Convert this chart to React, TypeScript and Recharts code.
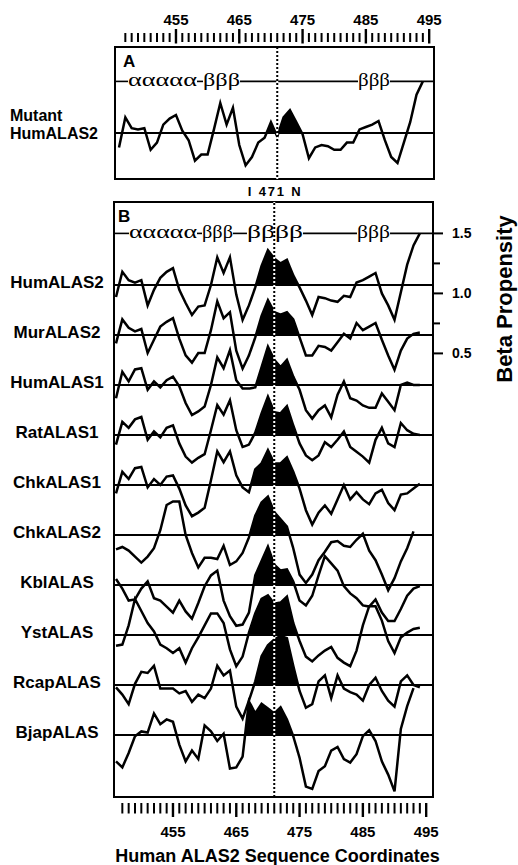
import React from 'react';
import { ComposedChart, Line, Area, XAxis, YAxis, ReferenceLine, ReferenceArea } from 'recharts';

// ---------- data ----------
const RESIDUES = [446, 447, 448, 449, 450, 451, 452, 453, 454, 455, 456, 457, 458, 459, 460, 461, 462, 463, 464, 465, 466, 467, 468, 469, 470, 471, 472, 473, 474, 475, 476, 477, 478, 479, 480, 481, 482, 483, 484, 485, 486, 487, 488, 489, 490, 491, 492, 493, 494];
const AXIS_TICKS = [447, 448, 449, 450, 451, 452, 453, 454, 455, 456, 457, 458, 459, 460, 461, 462, 463, 464, 465, 466, 467, 468, 469, 470, 471, 472, 473, 474, 475, 476, 477, 478, 479, 480, 481, 482, 483, 484, 485, 486, 487, 488, 489, 490, 491, 492, 493, 494, 495];
const LABELLED_TICKS = [455, 465, 475, 485, 495];
const PROPENSITY_TICKS = [0.5, 0.75, 1.0, 1.25, 1.5];
const PROPENSITY_LABELS = [0.5, 1.0, 1.5];
const MEAN = 1.07;
const SS_LEVEL = 1.5;
const MUTATION_SITE = 471;
const MUTATION_LABEL = 'I 471 N';
const FILL_WINDOW = [466, 476];
const X_TITLE = 'Human ALAS2 Sequence Coordinates';
const Y_TITLE = 'Beta Propensity';

const SPECIES = ['HumALAS2', 'MurALAS2', 'HumALAS1', 'RatALAS1', 'ChkALAS1', 'ChkALAS2', 'KblALAS', 'YstALAS', 'RcapALAS', 'BjapALAS'];

const mutantHumALAS2 = [0.95, 1.20, 1.11, 1.10, 1.11, 0.93, 0.99, 1.14, 1.19, 1.22, 1.09, 1.01, 0.84, 0.89, 0.89, 1.10, 1.32, 1.14, 1.28, 0.97, 0.80, 0.87, 0.99, 1.03, 1.16, 1.04, 1.20, 1.26, 1.16, 1.06, 0.86, 0.95, 0.97, 0.96, 0.93, 0.93, 0.99, 0.99, 1.10, 1.12, 1.14, 1.17, 1.01, 0.87, 0.82, 0.99, 1.16, 1.39, 1.50];

const humALAS2 = [0.97, 1.18, 1.11, 1.09, 1.11, 0.90, 1.03, 1.13, 1.18, 1.21, 1.03, 0.92, 0.82, 0.89, 0.90, 1.07, 1.30, 1.17, 1.30, 0.99, 0.78, 0.90, 1.05, 1.23, 1.36, 1.29, 1.25, 1.28, 1.15, 1.05, 0.94, 0.82, 0.97, 0.96, 0.94, 0.93, 0.98, 0.97, 1.09, 1.11, 1.14, 1.17, 1.00, 0.90, 0.78, 1.01, 1.24, 1.40, 1.50];
const murALAS2 = [1.00, 1.20, 1.13, 1.10, 1.12, 0.92, 1.03, 1.14, 1.18, 1.21, 1.04, 0.90, 0.84, 0.92, 0.92, 1.11, 1.35, 1.21, 1.26, 0.94, 0.79, 0.90, 1.05, 1.23, 1.36, 1.26, 1.24, 1.26, 1.20, 1.05, 0.90, 0.90, 0.98, 0.97, 0.94, 1.01, 1.08, 1.04, 1.17, 1.11, 1.14, 1.17, 1.03, 0.90, 0.78, 0.94, 1.04, 1.08, 1.09];
const humALAS1 = [0.96, 1.18, 1.10, 1.20, 1.21, 1.03, 1.10, 1.05, 1.11, 1.14, 1.06, 0.92, 0.82, 0.85, 0.89, 1.07, 1.30, 1.21, 1.36, 1.11, 1.04, 1.04, 1.05, 1.22, 1.39, 1.28, 1.22, 1.28, 1.14, 1.03, 0.86, 0.79, 0.86, 0.90, 0.80, 0.99, 1.10, 0.96, 0.94, 0.90, 0.88, 0.88, 1.00, 0.93, 0.86, 1.07, 1.09, 1.07, 1.07];
const ratALAS1 = [0.99, 1.18, 1.13, 1.20, 1.22, 1.03, 1.10, 1.05, 1.13, 1.15, 1.00, 0.89, 0.84, 0.88, 0.91, 1.11, 1.32, 1.24, 1.36, 1.11, 0.97, 0.99, 1.09, 1.25, 1.39, 1.26, 1.25, 1.31, 1.15, 1.00, 0.90, 0.86, 0.90, 1.01, 0.97, 1.03, 1.10, 0.97, 0.93, 0.89, 0.84, 1.03, 1.13, 1.00, 0.97, 1.17, 1.11, 1.08, 1.07];
const chkALAS1 = [1.00, 1.18, 1.12, 1.21, 1.22, 1.05, 1.12, 1.07, 1.14, 1.15, 1.04, 0.90, 0.81, 0.84, 0.88, 1.11, 1.35, 1.26, 1.35, 1.15, 1.05, 1.01, 1.20, 1.25, 1.36, 1.25, 1.25, 1.30, 1.18, 1.04, 0.86, 0.74, 0.84, 0.90, 0.83, 0.95, 1.07, 0.95, 1.01, 0.95, 0.91, 1.00, 1.03, 0.92, 0.86, 0.99, 1.00, 1.04, 1.08];
const chkALAS2 = [0.95, 0.97, 0.94, 0.89, 0.84, 0.89, 0.96, 1.11, 1.32, 1.35, 1.35, 1.07, 0.92, 0.80, 0.88, 0.88, 0.87, 0.98, 0.82, 0.85, 0.92, 1.05, 1.23, 1.34, 1.39, 1.26, 1.20, 1.14, 0.96, 0.74, 0.67, 0.74, 0.86, 0.93, 1.01, 1.02, 0.98, 0.97, 1.03, 1.08, 0.94, 0.86, 0.74, 0.61, 0.71, 0.85, 0.96, 1.10, null];
const kblALAS = [1.12, 1.04, 0.94, 0.95, 1.04, 1.10, 0.96, 0.94, 0.89, 0.84, 0.94, 0.85, 0.79, 0.92, 1.06, 1.15, 1.19, 0.94, 0.81, 0.73, 0.74, 0.84, 1.15, 1.27, 1.39, 1.24, 1.19, 1.20, 1.10, 0.94, 0.90, 0.98, 1.15, 1.31, 1.25, 1.19, 1.06, 1.00, 0.96, 0.90, 0.89, 0.95, 0.84, 0.77, 0.77, 0.87, 0.98, 1.04, 1.06];
const ystALAS = [0.98, 0.99, 1.15, 1.37, 1.27, 1.17, 1.10, 0.99, 0.96, 0.92, 0.96, 0.84, 0.96, 1.05, 1.15, 1.25, 1.25, 1.17, 0.95, 0.81, 0.89, 1.09, 1.25, 1.37, 1.40, 1.33, 1.34, 1.39, 1.17, 1.02, 0.89, 0.85, 0.90, 0.94, 0.97, 0.88, 0.84, 0.81, 0.94, 1.15, 1.31, 1.31, 1.19, 1.02, 0.92, 1.05, 1.09, 1.12, 1.13];
const rcapALAS = [1.05, 0.99, 0.91, 1.08, 1.18, 1.17, 1.23, 1.04, 1.04, 1.04, 1.00, 1.02, 0.93, 0.99, 0.96, 1.04, 1.23, 1.15, 1.19, 0.89, 0.79, 0.94, 1.10, 1.31, 1.40, 1.45, 1.48, 1.46, 1.23, 1.02, 0.88, 0.91, 1.10, 1.15, 0.96, 1.15, 1.04, 1.01, 0.99, 0.94, 1.07, 1.13, 1.02, 0.94, 0.89, 1.10, 1.15, 1.07, 1.05];
const bjapALAS = [0.85, 0.80, 0.92, 1.06, 1.10, 1.09, 1.25, 1.16, 1.20, 1.18, 0.99, 0.85, 0.94, 0.87, 1.15, 1.10, 1.02, 1.08, 0.79, 0.80, 0.89, 1.35, 1.25, 1.33, 1.29, 1.25, 1.30, 1.20, 1.06, 0.88, 0.64, 0.62, 0.77, 0.81, 0.94, 0.97, 0.87, 0.84, 0.91, 1.06, 1.11, 1.02, 0.85, 0.74, 0.60, 1.12, 1.31, 1.46, null];

const SERIES_B = [humALAS2, murALAS2, humALAS1, ratALAS1, chkALAS1, chkALAS2, kblALAS, ystALAS, rcapALAS, bjapALAS];

// secondary-structure annotation (residue coordinates)
const SS_A = [
  { text: 'ααααα', from: 447.42, to: 458.32 },
  { text: 'βββ', from: 459.27, to: 465.12 },
  { text: 'βββ', from: 483.76, to: 488.81 },
];
const SS_B = [
  { text: 'ααααα', from: 448.05, to: 458.8 },
  { text: 'βββ', from: 459.59, to: 464.48 },
  { text: 'ββββ', from: 466.69, to: 475.54 },
  { text: 'βββ', from: 484.07, to: 489.29 },
];

// ---------- layout ----------
const FONT = '"Liberation Sans", Arial, Helvetica, sans-serif';
const SERIF = '"Liberation Serif", "Times New Roman", Times, serif';
const ROW_STEP = 50 / 120;
const A_X = [445.368, 495.763];
const B_X = [445.684, 496.079];
const A_Y = [0.6867, 1.7867];
const B_Y = [-3.1967, 1.7617];
const ROW_BASELINES = SPECIES.map((_, k) => MEAN - k * ROW_STEP);

type Vals = (number | null)[];

function valueAt(vals: Vals, x: number): number | null {
  const i0 = Math.floor(x + 1e-9) - RESIDUES[0];
  const f = x - RESIDUES[0] - i0;
  const a = vals[i0];
  if (a == null) return null;
  if (f < 1e-9) return a;
  const b = vals[i0 + 1];
  if (b == null) return null;
  return a + (b - a) * f;
}

function crossings(vals: Vals): number[] {
  const out: number[] = [];
  for (let i = 0; i < RESIDUES.length - 1; i++) {
    const r = RESIDUES[i];
    if (r < FILL_WINDOW[0] || r >= FILL_WINDOW[1]) continue;
    const a = vals[i];
    const b = vals[i + 1];
    if (a == null || b == null) continue;
    if ((a - MEAN) * (b - MEAN) < 0) out.push(r + (MEAN - a) / (b - a));
  }
  return out;
}

function buildTable(series: Vals[], step: number) {
  const xs = new Set<number>(RESIDUES);
  series.forEach((v) => crossings(v).forEach((x) => xs.add(Math.round(x * 1e6) / 1e6)));
  const sorted = Array.from(xs).sort((a, b) => a - b);
  return sorted.map((x) => {
    const row: Record<string, any> = { x };
    series.forEach((vals, k) => {
      const shift = k * step;
      const v = valueAt(vals, x);
      row[`s${k}`] = v == null ? null : v - shift;
      const inWin = x >= FILL_WINDOW[0] && x <= FILL_WINDOW[1];
      const top = v != null && inWin && v > MEAN ? v : MEAN;
      row[`f${k}`] = [MEAN - shift, top - shift];
    });
    return row;
  });
}

function ssGaps(ss: { from: number; to: number }[], dom: number[]) {
  const pts = [dom[0]];
  ss.forEach((s) => pts.push(s.from, s.to));
  pts.push(dom[1]);
  const gaps: number[][] = [];
  for (let i = 0; i < pts.length; i += 2) gaps.push([pts[i], pts[i + 1]]);
  return gaps;
}

const tableA = buildTable([mutantHumALAS2], 0);
const tableB = buildTable(SERIES_B, ROW_STEP);

const BOLD = { fontFamily: FONT, fontWeight: 700, fill: '#000' } as const;

function TopTick(props: any) {
  const { x, y, payload } = props;
  const major = LABELLED_TICKS.includes(payload.value);
  return (
    <g>
      <line x1={x} x2={x} y1={y - (major ? 18 : 14)} y2={y - (major ? 3.5 : 5)} stroke="#000" strokeWidth={major ? 2.4 : 2} />
      {major && (
        <text x={x} y={y - 22} textAnchor="middle" fontSize={15} {...BOLD}>
          {payload.value}
        </text>
      )}
    </g>
  );
}

function BottomTick(props: any) {
  const { x, y, payload } = props;
  const major = LABELLED_TICKS.includes(payload.value);
  return (
    <g>
      <line x1={x} x2={x} y1={y + 6} y2={y + (major ? 20 : 16.5)} stroke="#000" strokeWidth={major ? 2.4 : 2} />
      {major && (
        <text x={x} y={y + 40} textAnchor="middle" fontSize={15} {...BOLD}>
          {payload.value}
        </text>
      )}
    </g>
  );
}

function RightTick(props: any) {
  const { x, y, payload } = props;
  const v = payload.value as number;
  const major = PROPENSITY_LABELS.some((p) => Math.abs(p - v) < 1e-6);
  return (
    <g>
      <line x1={x} x2={x + (major ? 10 : 7)} y1={y} y2={y} stroke="#000" strokeWidth={2} />
      {major && (
        <text x={x + 19} y={y + 5} fontSize={14} {...BOLD}>
          {v.toFixed(1)}
        </text>
      )}
    </g>
  );
}

function SpeciesTick(props: any) {
  const { y, payload } = props;
  const k = Math.round((MEAN - payload.value) / ROW_STEP);
  return (
    <text x={57} y={y + 3} textAnchor="middle" fontSize={17} {...BOLD}>
      {SPECIES[k]}
    </text>
  );
}

function MutantTick(props: any) {
  const { y } = props;
  return (
    <g>
      <text x={10} y={y - 12} fontSize={16} {...BOLD}>Mutant</text>
      <text x={10} y={y + 6} fontSize={16} {...BOLD}>HumALAS2</text>
    </g>
  );
}

function SSLabel(props: any) {
  const vb = props.viewBox;
  if (!vb) return null;
  return (
    <text
      x={vb.x}
      y={vb.y + vb.height / 2 + 5}
      textLength={vb.width}
      lengthAdjust="spacingAndGlyphs"
      fontFamily={SERIF}
      fontSize={19}
      fill="#000"
    >
      {props.text}
    </text>
  );
}

function PanelLetter(props: any) {
  const vb = props.viewBox;
  if (!vb) return null;
  return (
    <text x={vb.x + props.dx} y={vb.y + 20} fontSize={17} {...BOLD}>
      {props.text}
    </text>
  );
}

function MutationLabel(props: any) {
  const vb = props.viewBox;
  if (!vb) return null;
  return (
    <text x={vb.x} y={vb.y - 6} textAnchor="middle" fontSize={13} textLength={53} lengthAdjust="spacing" {...BOLD}>
      {MUTATION_LABEL}
    </text>
  );
}

function XTitle(props: any) {
  const vb = props.viewBox;
  if (!vb) return null;
  return (
    <text x={vb.x + 163.5} y={vb.y + 65} textAnchor="middle" fontSize={18} {...BOLD}>
      {X_TITLE}
    </text>
  );
}

function YTitle(props: any) {
  const vb = props.viewBox;
  if (!vb) return null;
  const cx = vb.x + 79;
  const cy = vb.y + 97;
  return (
    <text x={cx} y={cy} transform={`rotate(-90, ${cx}, ${cy})`} textAnchor="middle" fontSize={22} {...BOLD}>
      {Y_TITLE}
    </text>
  );
}

export default function App() {
  const gapsA = ssGaps(SS_A, A_X);
  const gapsB = ssGaps(SS_B, B_X);
  return (
    <div style={{ position: 'absolute', left: 0, top: 0, width: 518, height: 865, background: '#fff' }}>
      <div style={{ position: 'absolute', left: 0, top: 0 }}>
        <ComposedChart width={518} height={182} data={tableA} margin={{ top: 0, right: 84, bottom: 3, left: 0 }}>
          <XAxis
            type="number"
            dataKey="x"
            orientation="top"
            domain={A_X}
            allowDataOverflow
            ticks={AXIS_TICKS}
            interval={0}
            tick={<TopTick />}
            tickLine={false}
            axisLine={false}
            tickSize={0}
            tickMargin={0}
            height={47}
          />
          <YAxis
            yAxisId="a"
            type="number"
            domain={A_Y}
            allowDataOverflow
            ticks={[MEAN]}
            interval={0}
            tick={<MutantTick />}
            tickLine={false}
            axisLine={false}
            tickSize={0}
            tickMargin={0}
            width={115}
          />
          <Area yAxisId="a" dataKey="f0" type="linear" stroke="none" fill="#000" fillOpacity={1} dot={false} activeDot={false} isAnimationActive={false} />
          <ReferenceLine yAxisId="a" y={MEAN} stroke="#000" strokeWidth={2.2} />
          {gapsA.map(([a, b], i) => (
            <ReferenceLine key={`ga${i}`} yAxisId="a" segment={[{ x: a, y: SS_LEVEL }, { x: b, y: SS_LEVEL }]} stroke="#000" strokeWidth={1.6} />
          ))}
          {SS_A.map((s, i) => (
            <ReferenceArea
              key={`sa${i}`}
              yAxisId="a"
              x1={s.from}
              x2={s.to}
              y1={SS_LEVEL - 0.02}
              y2={SS_LEVEL + 0.02}
              fill="none"
              stroke="none"
              label={(p: any) => <SSLabel {...p} text={s.text} />}
            />
          ))}
          <Line yAxisId="a" dataKey="s0" type="linear" stroke="#000" strokeWidth={2.5} dot={false} activeDot={false} isAnimationActive={false} />
          <ReferenceLine yAxisId="a" x={MUTATION_SITE} stroke="#000" strokeWidth={2} strokeDasharray="2 2" />
          <ReferenceLine yAxisId="a" x={MUTATION_SITE} stroke="#fff" strokeWidth={2} strokeDasharray="2 2" strokeDashoffset={2} />
          <ReferenceArea
            yAxisId="a"
            x1={A_X[0]}
            x2={A_X[1]}
            y1={A_Y[0]}
            y2={A_Y[1]}
            fill="none"
            stroke="#000"
            strokeWidth={2}
            label={(p: any) => <PanelLetter {...p} text="A" dx={8} />}
          />
        </ComposedChart>
      </div>
      <div style={{ position: 'absolute', left: 0, top: 182 }}>
        <ComposedChart width={518} height={683} data={tableB} margin={{ top: 20, right: 0, bottom: 23, left: 0 }}>
          <XAxis
            type="number"
            dataKey="x"
            orientation="bottom"
            domain={B_X}
            allowDataOverflow
            ticks={AXIS_TICKS}
            interval={0}
            tick={<BottomTick />}
            tickLine={false}
            axisLine={false}
            tickSize={0}
            tickMargin={0}
            height={45}
            label={(p: any) => <XTitle {...p} />}
          />
          <YAxis
            yAxisId="names"
            orientation="left"
            type="number"
            domain={B_Y}
            allowDataOverflow
            ticks={ROW_BASELINES}
            interval={0}
            tick={<SpeciesTick />}
            tickLine={false}
            axisLine={false}
            tickSize={0}
            tickMargin={0}
            width={114}
          />
          <YAxis
            yAxisId="prop"
            orientation="right"
            type="number"
            domain={B_Y}
            allowDataOverflow
            ticks={PROPENSITY_TICKS}
            interval={0}
            tick={<RightTick />}
            tickLine={false}
            axisLine={false}
            tickSize={0}
            tickMargin={0}
            width={85}
            label={(p: any) => <YTitle {...p} />}
          />
          {SPECIES.map((_, k) => (
            <Area
              key={`f${k}`}
              yAxisId="prop"
              dataKey={`f${k}`}
              type="linear"
              stroke="none"
              fill="#000"
              fillOpacity={1}
              dot={false}
              activeDot={false}
              isAnimationActive={false}
            />
          ))}
          {ROW_BASELINES.map((b, k) => (
            <ReferenceLine key={`b${k}`} yAxisId="prop" y={b} stroke="#000" strokeWidth={2.2} />
          ))}
          {gapsB.map(([a, b], i) => (
            <ReferenceLine key={`gb${i}`} yAxisId="prop" segment={[{ x: a, y: SS_LEVEL }, { x: b, y: SS_LEVEL }]} stroke="#000" strokeWidth={1.6} />
          ))}
          {SS_B.map((s, i) => (
            <ReferenceArea
              key={`sb${i}`}
              yAxisId="prop"
              x1={s.from}
              x2={s.to}
              y1={SS_LEVEL - 0.02}
              y2={SS_LEVEL + 0.02}
              fill="none"
              stroke="none"
              label={(p: any) => <SSLabel {...p} text={s.text} />}
            />
          ))}
          {SPECIES.map((_, k) => (
            <Line
              key={`s${k}`}
              yAxisId="prop"
              dataKey={`s${k}`}
              type="linear"
              stroke="#000"
              strokeWidth={2.5}
              dot={false}
              activeDot={false}
              isAnimationActive={false}
            />
          ))}
          <ReferenceLine
            yAxisId="prop"
            x={MUTATION_SITE}
            stroke="#000"
            strokeWidth={2}
            strokeDasharray="2 2"
            label={(p: any) => <MutationLabel {...p} />}
          />
          <ReferenceLine yAxisId="prop" x={MUTATION_SITE} stroke="#fff" strokeWidth={2} strokeDasharray="2 2" strokeDashoffset={2} />
          <ReferenceArea
            yAxisId="prop"
            x1={B_X[0]}
            x2={B_X[1]}
            y1={B_Y[0]}
            y2={B_Y[1]}
            fill="none"
            stroke="#000"
            strokeWidth={2}
            label={(p: any) => <PanelLetter {...p} text="B" dx={4} />}
          />
        </ComposedChart>
      </div>
    </div>
  );
}
